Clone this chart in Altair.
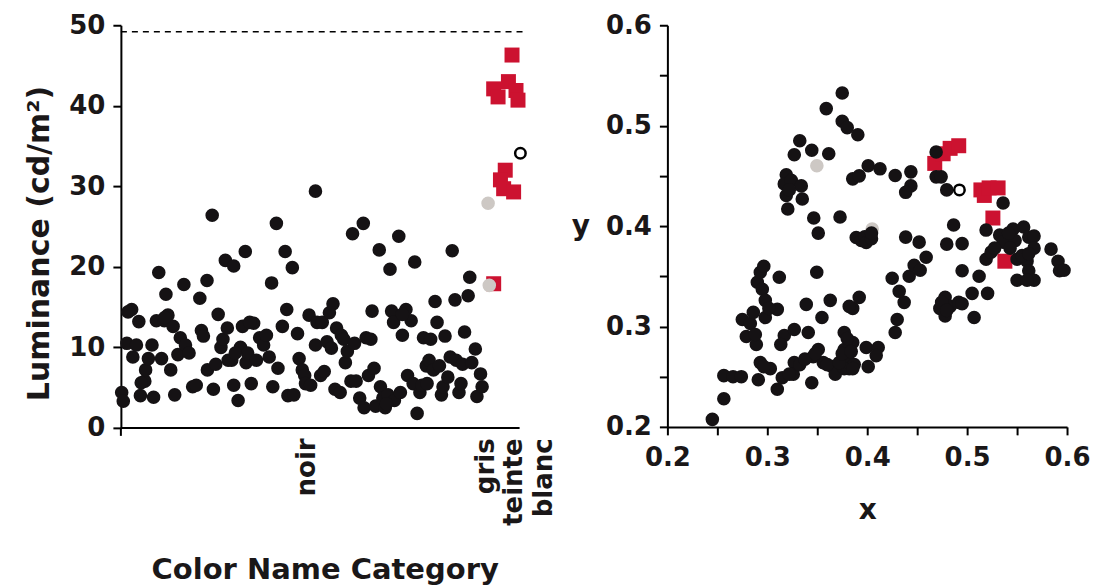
import altair as alt
import pandas as pd

# ---------------- data: left panel (luminance by colour-name category) ----------------
left_black_x = [0.2, 0.6, 1.5, 2.7, 3.0, 3.9, 4.5, 4.9, 6.0, 6.2, 6.9, 7.8, 8.2, 8.9, 9.5, 10.2,
                10.9, 11.3, 11.8, 12.5, 13.1, 13.5, 14.3, 14.9, 15.8, 16.2, 17.1, 18.0, 18.9, 19.8,
                20.2, 20.7, 21.6, 21.7, 22.9, 23.2, 23.8, 24.4, 25.1, 25.6, 26.2, 26.7, 27.8, 28.3,
                28.3, 29.4, 30.0, 30.5, 31.2, 31.4, 31.8, 32.7, 33.3, 34.0, 34.8, 35.8, 36.5, 37.2,
                37.8, 38.1, 39.0, 39.4, 40.5, 41.2, 41.6, 41.9, 43.0, 43.4, 44.3, 44.7, 45.5, 46.1,
                46.3, 47.2, 47.6, 48.8, 48.8, 49.2, 50.1, 50.5, 51.0, 51.7, 52.3, 53.2, 53.7, 54.1,
                55.0, 55.3, 55.9, 56.3, 56.8, 57.7, 58.1, 58.6, 59.9, 60.8, 61.0, 61.5, 62.1, 62.7,
                63.0, 63.5, 63.9, 64.8, 65.1, 65.7, 66.3, 67.0, 67.5, 67.9, 68.4, 68.6, 69.7, 70.1,
                70.6, 71.5, 71.9, 72.8, 73.3, 73.7, 74.3, 75.0, 75.5, 75.9, 76.6, 77.3, 77.7, 78.4,
                78.8, 79.3, 79.9, 80.4, 80.8, 81.3, 82.0, 82.6, 83.1, 83.8, 84.1, 84.8, 85.3, 85.7,
                86.2, 87.1, 87.5, 88.0, 88.9, 89.3, 90.2, 90.6, 1.8, 5.1, 11.0, 32.3, 52.8, 70.6,
                76.8, 26.9, 28.7, 59.0, 66.6]
left_black_y = [4.4, 3.3, 10.5, 14.7, 8.8, 10.3, 13.2, 4.0, 5.8, 7.2, 8.6, 10.3, 3.8, 13.3, 19.3, 8.6,
                13.3, 16.6, 14.0, 7.2, 12.6, 4.1, 9.1, 11.2, 17.8, 10.3, 9.3, 5.1, 5.3, 16.1,
                12.1, 11.4, 18.3, 7.2, 26.4, 4.8, 7.9, 14.1, 10.0, 11.0, 20.8, 12.4, 8.4, 5.3,
                20.1, 3.4, 10.0, 12.6, 21.9, 8.1, 9.3, 5.5, 13.0, 8.4, 11.2, 10.3, 11.5, 8.8,
                18.0, 5.1, 25.4, 7.4, 12.6, 21.9, 14.7, 4.0, 19.9, 4.1, 11.7, 8.6, 7.2, 6.5,
                5.5, 14.0, 5.3, 29.4, 10.3, 13.1, 6.5, 13.1, 7.0, 10.7, 14.3, 15.4, 4.8, 12.4,
                4.4, 11.5, 11.0, 8.1, 9.5, 5.8, 24.1, 10.5, 3.7, 25.4, 2.5, 11.2, 6.5, 11.0,
                14.5, 7.4, 2.7, 22.1, 5.1, 3.7, 2.5, 4.1, 19.7, 14.5, 13.1, 3.4, 23.8, 4.4,
                11.5, 14.7, 6.5, 13.3, 5.5, 20.6, 1.8, 4.4, 5.3, 11.2, 7.7, 8.4, 11.0, 7.2,
                15.7, 13.1, 7.7, 4.1, 5.1, 11.4, 6.3, 8.8, 22.0, 15.9, 8.4, 4.4, 5.5, 7.9,
                11.9, 16.4, 18.7, 8.1, 9.8, 3.9, 6.7, 5.1, 14.4, 5.6, 13.7, 13.1, 9.9, 14.1,
                5.5, 8.4, 9.3, 5.8, 3.0]
left_red_x = [98.1, 93.5, 94.6, 97.2, 99.1, 99.6, 96.4, 95.2, 96.0, 98.5, 93.5]
left_red_y = [46.3, 42.1, 41.1, 43.0, 41.9, 40.7, 32.0, 30.8, 29.7, 29.3, 17.9]
left_grey_x = [92.1, 92.4]
left_grey_y = [27.9, 17.7]
left_open_x = [100.2]
left_open_y = [34.1]
dashed_level = 49.2
category_labels = ["noir", "gris", "teinte", "blanc"]
category_pos = [46.5, 91.5, 98.5, 106.0]
lum_ticks = [0, 10, 20, 30, 40, 50]

# ---------------- data: right panel (chromaticity x, y) ----------------
right_black_x = [0.245, 0.2565, 0.2565, 0.2657, 0.274, 0.291, 0.275, 0.279, 0.283, 0.286, 0.289,
                 0.290, 0.293, 0.2965, 0.295, 0.298, 0.293, 0.303, 0.298, 0.312, 0.310, 0.310,
                 0.315, 0.317, 0.3135, 0.327, 0.327, 0.326, 0.341, 0.339, 0.346, 0.3445, 0.351,
                 0.3495, 0.3547, 0.356, 0.363, 0.365, 0.368, 0.377, 0.377, 0.380, 0.382, 0.3855,
                 0.3855, 0.392, 0.387, 0.377, 0.399, 0.401, 0.411, 0.409, 0.428, 0.430, 0.437,
                 0.432, 0.425, 0.442, 0.447, 0.453, 0.459, 0.452, 0.4385, 0.4727, 0.478, 0.478,
                 0.483, 0.4916, 0.505, 0.507, 0.495, 0.512, 0.5205, 0.4796, 0.495, 0.4865, 0.519,
                 0.524, 0.519, 0.5326, 0.536, 0.546, 0.548, 0.550, 0.5566, 0.5617, 0.567, 0.567,
                 0.560, 0.5617, 0.550, 0.567, 0.584, 0.591, 0.5925, 0.597, 0.536, 0.469, 0.474,
                 0.4796, 0.469, 0.3325, 0.327, 0.3445, 0.3615, 0.319, 0.317, 0.324, 0.334, 0.319,
                 0.322, 0.335, 0.3205, 0.3465, 0.351, 0.3728, 0.359, 0.375, 0.375, 0.380, 0.3906,
                 0.3855, 0.392, 0.401, 0.4128, 0.428, 0.4437, 0.4437, 0.4385, 0.389, 0.394,
                 0.3975, 0.399, 0.4043, 0.4043, 0.288, 0.2965, 0.3016, 0.3325, 0.3376, 0.360,
                 0.372, 0.375, 0.380, 0.384, 0.3855, 0.382, 0.348, 0.322, 0.5275, 0.5415, 0.555,
                 0.5617, 0.560, 0.543, 0.4745, 0.4796, 0.495]
right_black_y = [0.2075, 0.228, 0.251, 0.250, 0.250, 0.247, 0.307, 0.290, 0.303, 0.314, 0.282,
                 0.344, 0.354, 0.360, 0.337, 0.326, 0.264, 0.258, 0.309, 0.349, 0.317, 0.2375,
                 0.249, 0.291, 0.282, 0.297, 0.264, 0.2525, 0.294, 0.322, 0.270, 0.244, 0.277,
                 0.354, 0.309, 0.264, 0.326, 0.260, 0.2525, 0.294, 0.277, 0.2675, 0.258, 0.284,
                 0.318, 0.329, 0.262, 0.258, 0.279, 0.260, 0.279, 0.271, 0.294, 0.307, 0.324,
                 0.335, 0.348, 0.350, 0.361, 0.356, 0.369, 0.384, 0.389, 0.318, 0.329, 0.3105,
                 0.320, 0.324, 0.333, 0.309, 0.3555, 0.350, 0.333, 0.382, 0.3825, 0.401, 0.367,
                 0.374, 0.396, 0.391, 0.384, 0.397, 0.3855, 0.367, 0.399, 0.389, 0.390, 0.378,
                 0.365, 0.3555, 0.346, 0.346, 0.377, 0.365, 0.3555, 0.356, 0.423, 0.449, 0.449,
                 0.436, 0.4737, 0.485, 0.471, 0.4755, 0.472, 0.451, 0.442, 0.4455, 0.440, 0.4305,
                 0.436, 0.427, 0.417, 0.408, 0.393, 0.409, 0.517, 0.5325, 0.5044, 0.498, 0.491,
                 0.447, 0.450, 0.460, 0.457, 0.4504, 0.454, 0.440, 0.4336, 0.3886, 0.3856,
                 0.3893, 0.3837, 0.3874, 0.393, 0.292, 0.260, 0.318, 0.262, 0.2675, 0.262,
                 0.264, 0.273, 0.288, 0.275, 0.258, 0.320, 0.273, 0.2525, 0.378, 0.393, 0.3706,
                 0.3725, 0.346, 0.378, 0.324, 0.316, 0.3226]
right_red_x = [0.4676, 0.476, 0.483, 0.4916, 0.5138, 0.5172, 0.522, 0.531, 0.5258, 0.5378]
right_red_y = [0.4624, 0.472, 0.4774, 0.480, 0.436, 0.4305, 0.438, 0.438, 0.408, 0.365]
right_grey_x = [0.3496, 0.405]
right_grey_y = [0.460, 0.397]
right_open_x = [0.4923]
right_open_y = [0.436]
chrom_ticks = [0.2, 0.25, 0.3, 0.35, 0.4, 0.45, 0.5, 0.55, 0.6]

# ---------------- styling ----------------
FONT = "DejaVu Sans"
BLACK = "#151214"
RED = "#cc1230"
GREY = "#cdc8c4"
DOT = 185
SQ = 225

lb = pd.DataFrame({"x": left_black_x, "y": left_black_y})
lr = pd.DataFrame({"x": left_red_x, "y": left_red_y})
lg = pd.DataFrame({"x": left_grey_x, "y": left_grey_y})
lo = pd.DataFrame({"x": left_open_x, "y": left_open_y})
rb = pd.DataFrame({"x": right_black_x, "y": right_black_y})
rr = pd.DataFrame({"x": right_red_x, "y": right_red_y})
rg = pd.DataFrame({"x": right_grey_x, "y": right_grey_y})
ro = pd.DataFrame({"x": right_open_x, "y": right_open_y})

label_expr = " : ".join(
    f"datum.value == {p} ? '{t}'" for p, t in zip(category_pos, category_labels)
) + " : ''"

LW, LH = 427, 403
xs_left = alt.Scale(domain=[0, 107], nice=False, zero=False)
ys_left = alt.Scale(domain=[0, 50], nice=False)

x_left_axis = alt.Axis(
    values=category_pos, labelExpr=label_expr, labelAngle=270, labelAlign="right",
    labelBaseline="middle", labelPadding=10, ticks=False, domain=False, grid=False,
    labelOverlap=False, labelFlush=False, labelBound=False,
    title="Color Name Category", titlePadding=30, titleX=204, titleAlign="center",
    titleFontSize=29,
)
y_left_axis = alt.Axis(values=lum_ticks, format="d", title="Luminance (cd/m²)",
                       titlePadding=14, labelPadding=8, grid=False, titleFontSize=30,
                       titleY=218)

left_red = alt.Chart(lr).mark_square(size=SQ, color=RED, opacity=1).encode(
    x=alt.X("x:Q", scale=xs_left, axis=x_left_axis),
    y=alt.Y("y:Q", scale=ys_left, axis=y_left_axis))
left_black = alt.Chart(lb).mark_circle(size=DOT, color=BLACK, opacity=1).encode(
    x=alt.X("x:Q", scale=xs_left), y=alt.Y("y:Q", scale=ys_left))
left_grey = alt.Chart(lg).mark_circle(size=DOT, color=GREY, opacity=1).encode(
    x=alt.X("x:Q", scale=xs_left), y=alt.Y("y:Q", scale=ys_left))
left_open = alt.Chart(lo).mark_point(shape="circle", filled=False, size=110, color="black",
                                      strokeWidth=2.5, opacity=1).encode(
    x=alt.X("x:Q", scale=xs_left), y=alt.Y("y:Q", scale=ys_left))
baseline = alt.Chart(pd.DataFrame({"a": [0], "b": [100], "y": [0]})).mark_rule(
    color="black", strokeWidth=2).encode(
    x=alt.X("a:Q", scale=xs_left), x2="b:Q", y=alt.Y("y:Q", scale=ys_left))
origin_tick = alt.Chart(pd.DataFrame({"a": [0]})).mark_rule(
    color="black", strokeWidth=2).encode(
    x=alt.X("a:Q", scale=xs_left), y=alt.value(LH), y2=alt.value(LH + 8))
dashed = alt.Chart(pd.DataFrame({"a": [0], "b": [101], "y": [dashed_level]})).mark_rule(
    color="black", strokeWidth=1.6, strokeDash=[6, 5]).encode(
    x=alt.X("a:Q", scale=xs_left), x2="b:Q", y=alt.Y("y:Q", scale=ys_left))

left = alt.layer(left_red, dashed, baseline, origin_tick, left_black, left_grey, left_open
                 ).properties(width=LW, height=LH)

RW, RH = 400, 402
xs_r = alt.Scale(domain=[0.2, 0.6], nice=False, zero=False)
ys_r = alt.Scale(domain=[0.2, 0.6], nice=False, zero=False)
lab = "abs(datum.value * 10 - round(datum.value * 10)) < 0.01 ? format(datum.value, '.1f') : ''"
x_r_axis = alt.Axis(values=chrom_ticks, labelExpr=lab, title="x", titlePadding=26,
                    labelPadding=10, grid=False, labelFlush=False, labelOverlap=False)
y_r_axis = alt.Axis(values=chrom_ticks, labelExpr=lab, title="y", titleAngle=0,
                    titleAlign="right", titleBaseline="middle", titlePadding=16,
                    labelPadding=8, grid=False, labelFlush=False, labelOverlap=False)

right_grey = alt.Chart(rg).mark_circle(size=DOT, color=GREY, opacity=1).encode(
    x=alt.X("x:Q", scale=xs_r, axis=x_r_axis), y=alt.Y("y:Q", scale=ys_r, axis=y_r_axis))
right_red = alt.Chart(rr).mark_square(size=SQ, color=RED, opacity=1).encode(
    x=alt.X("x:Q", scale=xs_r), y=alt.Y("y:Q", scale=ys_r))
right_black = alt.Chart(rb).mark_circle(size=DOT, color=BLACK, opacity=1).encode(
    x=alt.X("x:Q", scale=xs_r), y=alt.Y("y:Q", scale=ys_r))
right_open = alt.Chart(ro).mark_point(shape="circle", filled=False, size=110, color="black",
                                       strokeWidth=2.5, opacity=1).encode(
    x=alt.X("x:Q", scale=xs_r), y=alt.Y("y:Q", scale=ys_r))

right = alt.layer(right_grey, right_red, right_black, right_open).properties(width=RW, height=RH)

chart = alt.hconcat(left, right, spacing=13).properties(
    padding={"left": 24, "top": 12, "right": 5, "bottom": 0},
    background="white",
).configure_view(stroke=None).configure_axis(
    labelFont=FONT, labelFontSize=26, labelFontWeight="bold", labelColor="#1a1718",
    titleFont=FONT, titleFontSize=28, titleFontWeight="bold", titleColor="#1a1718",
    domainColor="black", domainWidth=2, tickColor="black", tickWidth=2, tickSize=8,
)

chart.save("out.html", embed_options={"renderer": "svg", "actions": False})
